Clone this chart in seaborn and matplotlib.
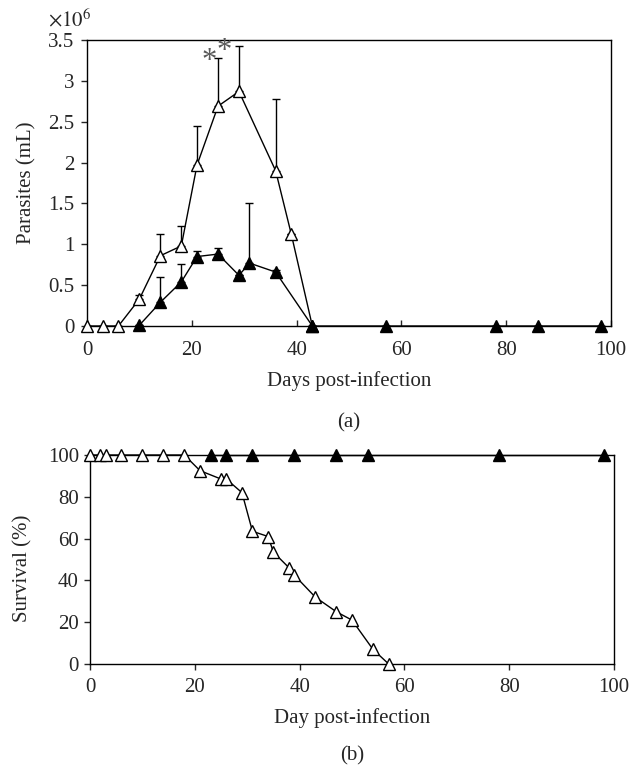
import numpy as np
import matplotlib
matplotlib.use("Agg")
import matplotlib.pyplot as plt
import seaborn as sns
from matplotlib.ticker import FuncFormatter

# -----------------------------
# DATA
# -----------------------------
# (a) parasitaemia, x10^6 parasites/mL
open_days = [0, 3, 6, 10, 14, 18, 21, 25, 29, 36, 39, 43]
open_par = [0, 0, 0, 0.33, 0.86, 0.98, 1.97, 2.69, 2.87, 1.90, 1.12, 0]
open_err = [0, 0, 0, 0.05, 0.27, 0.24, 0.48, 0.59, 0.56, 0.88, 0, 0]

filled_days = [10, 14, 18, 21, 25, 29, 31, 36, 43, 57, 78, 86, 98]
filled_par = [0.01, 0.29, 0.54, 0.85, 0.88, 0.62, 0.77, 0.66, 0, 0, 0, 0, 0]
filled_err = [0, 0.31, 0.22, 0.07, 0.07, 0, 0.74, 0.02, 0, 0, 0, 0, 0]

star_days = [23.4, 26.2]
star_vals = [3.24, 3.36]

# (b) survival, %
surv_open_days = [0, 2, 3, 6, 10, 14, 18, 21, 25, 26, 29, 31, 34, 35, 38, 39, 43, 47, 50, 54, 57]
surv_open = [100, 100, 100, 100, 100, 100, 100, 92.5, 88.5, 88.5, 82, 63.5, 61, 53.5, 46, 42.5, 32, 25, 21, 7, 0]
surv_filled_days = [23, 26, 31, 39, 47, 53, 78, 98]
surv_filled = [100, 100, 100, 100, 100, 100, 100, 100]

# -----------------------------
# STYLE
# -----------------------------
sns.set_style("ticks")
plt.rcParams['font.family'] = ['Liberation Serif', 'DejaVu Serif']
plt.rcParams['mathtext.fontset'] = 'stix'
FS = 15

fig = plt.figure(figsize=(6.38, 7.71), dpi=100)
ax1 = fig.add_axes([87 / 638, 1 - 326 / 771, 524 / 638, 286 / 771])
ax2 = fig.add_axes([90 / 638, 1 - 664 / 771, 524 / 638, 209 / 771])

mk = dict(marker="^", markersize=8, markeredgewidth=1, markeredgecolor="black")
eb = dict(fmt="none", ecolor="black", elinewidth=1, capsize=2.7, capthick=1, zorder=2)


def px_y(p):
    return 1 - p / 771


# -----------------------------
# (a) PARASITES
# -----------------------------
ax1.errorbar(open_days, open_par, yerr=[np.zeros(len(open_err)), open_err], **eb)
ax1.errorbar(filled_days, filled_par, yerr=[np.zeros(len(filled_err)), filled_err], **eb)
sns.lineplot(x=open_days, y=open_par, ax=ax1, color="black", lw=1,
             markerfacecolor="white", zorder=3, clip_on=False, **mk)
sns.lineplot(x=filled_days, y=filled_par, ax=ax1, color="black", lw=1,
             markerfacecolor="black", zorder=3, clip_on=False, **mk)
for d, v in zip(star_days, star_vals):
    ax1.text(d, v, "*", ha="center", va="center", fontsize=22, color="#5a5a5a")

ax1.set_xlim(0, 100)
ax1.set_ylim(0, 3.5)
ax1.set_xticks(np.arange(0, 101, 20))
ax1.set_yticks(np.arange(0, 3.51, 0.5))
ax1.yaxis.set_major_formatter(FuncFormatter(lambda v, p: f"{v:g}"))
ax1.tick_params(axis="x", direction="in", length=4, width=1, labelsize=FS, pad=11)
ax1.tick_params(axis="y", direction="out", length=4, width=1, labelsize=FS, pad=5)
ax1.set_xlabel("")
ax1.set_ylabel("Parasites (mL)", fontsize=FS)
ax1.yaxis.set_label_coords(-0.097, 0.5)
ax1.text(-0.075, 1.03, r"$\times 10^{6}$", transform=ax1.transAxes, fontsize=FS,
         ha="left", va="bottom")
for s in ax1.spines.values():
    s.set_linewidth(1)
    s.set_color("black")
cx1 = ax1.get_position().x0 + ax1.get_position().width / 2
fig.text(cx1, px_y(381), "Days post-infection", ha="center", va="center", fontsize=FS)
fig.text(cx1, px_y(423), "(a)", ha="center", va="center", fontsize=FS)

# -----------------------------
# (b) SURVIVAL
# -----------------------------
sns.lineplot(x=surv_open_days, y=surv_open, ax=ax2, color="black", lw=1,
             markerfacecolor="white", zorder=3, clip_on=False, **mk)
sns.lineplot(x=surv_filled_days, y=surv_filled, ax=ax2, color="black", lw=1,
             markerfacecolor="black", zorder=3, clip_on=False, **mk)
ax2.set_xlim(0, 100)
ax2.set_ylim(0, 100)
ax2.set_xticks(np.arange(0, 101, 20))
ax2.set_yticks(np.arange(0, 101, 20))
ax2.tick_params(axis="x", direction="out", length=4, width=1, labelsize=FS, pad=6)
ax2.tick_params(axis="y", direction="out", length=4, width=1, labelsize=FS, pad=4)
ax2.set_xlabel("")
ax2.set_ylabel("Survival (%)", fontsize=FS)
ax2.yaxis.set_label_coords(-0.11, 0.46)
for s in ax2.spines.values():
    s.set_linewidth(1)
    s.set_color("black")
cx2 = ax2.get_position().x0 + ax2.get_position().width / 2
fig.text(cx2, px_y(718), "Day post-infection", ha="center", va="center", fontsize=FS)
fig.text(cx2, px_y(756), "(b)", ha="center", va="center", fontsize=FS)

fig.savefig("out.png", dpi=100)
